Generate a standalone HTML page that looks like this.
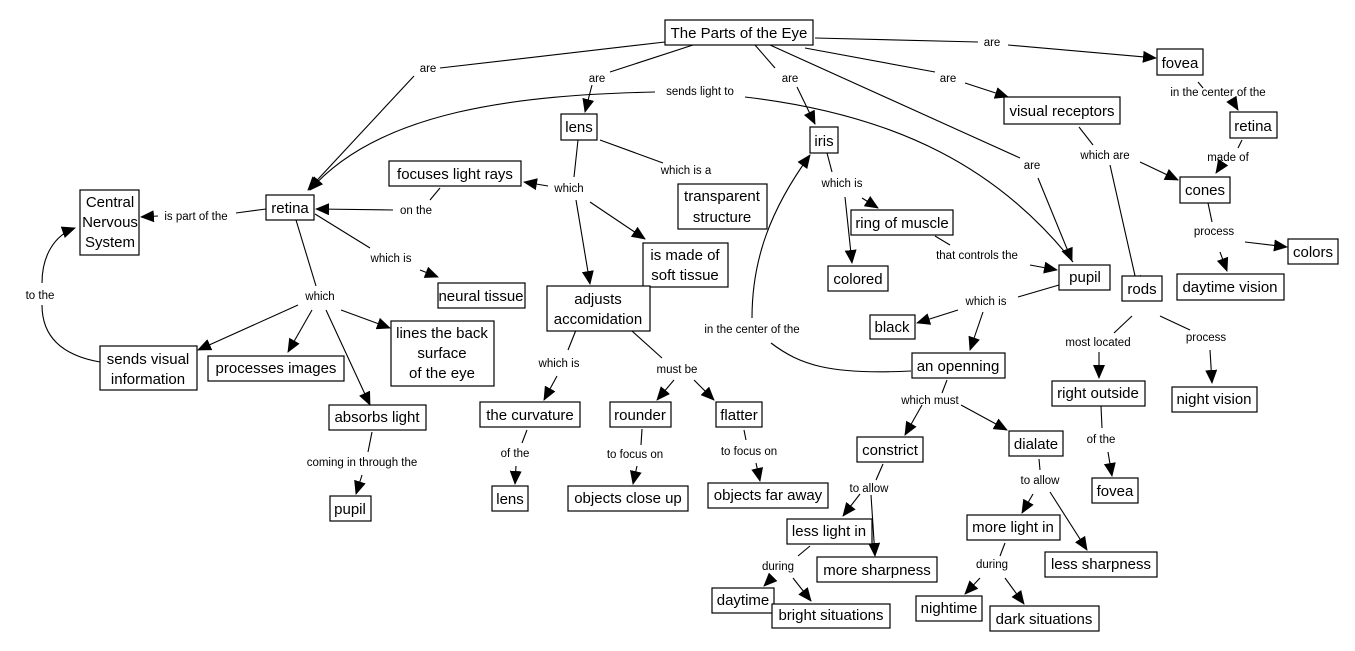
<!DOCTYPE html>
<html><head><meta charset="utf-8"><style>
html,body{margin:0;padding:0;background:#fff;}
svg{display:block;}
.b rect{fill:#fff;stroke:#000;stroke-width:1.2;}
.b text{font-family:"Liberation Sans",Arial,sans-serif;font-size:15px;fill:#000;text-anchor:middle;}
.l{font-family:"Liberation Sans",Arial,sans-serif;font-size:11.5px;fill:#000;text-anchor:middle;}
.c{fill:none;stroke:#000;stroke-width:1.1;}
</style></head><body>
<svg width="1355" height="651" viewBox="0 0 1355 651" xmlns="http://www.w3.org/2000/svg">
<defs><marker id="a" markerUnits="userSpaceOnUse" markerWidth="14" markerHeight="12" refX="13" refY="6" orient="auto"><path d="M0,0 L14,6 L0,12 z" fill="#000"/></marker></defs>
<g class="c">
<path d="M665,42 L440,68"/><path d="M414,76 L308,190" marker-end="url(#a)"/>
<path d="M693,45 L610,72"/><path d="M592,85 L585,112" marker-end="url(#a)"/>
<path d="M655,92 C520,95 380,110 310,190" marker-end="url(#a)"/>
<path d="M1073,262 C1000,170 900,115 745,97"/>
<path d="M755,45 L775,68"/><path d="M797,87 L815,124" marker-end="url(#a)"/>
<path d="M770,45 L1020,158"/><path d="M1038,178 L1072,261" marker-end="url(#a)"/>
<path d="M805,48 L935,72"/><path d="M965,83 L1008,97" marker-end="url(#a)"/>
<path d="M815,38 L978,42"/><path d="M1008,45 L1156,58" marker-end="url(#a)"/>
<path d="M1198,82 L1203,88"/><path d="M1232,100 L1238,110" marker-end="url(#a)"/>
<path d="M1242,140 L1238,148"/><path d="M1222,164 L1216,173" marker-end="url(#a)"/>
<path d="M1079,127 L1093,145"/><path d="M1140,162 L1178,180" marker-end="url(#a)"/><path d="M1110,165 L1138,289" marker-end="url(#a)"/>
<path d="M1208,203 L1212,222"/><path d="M1245,242 L1287,247" marker-end="url(#a)"/><path d="M1220,252 L1227,271" marker-end="url(#a)"/>
<path d="M1132,316 L1114,333"/><path d="M1099,352 L1099,378" marker-end="url(#a)"/>
<path d="M1160,316 L1190,330"/><path d="M1210,350 L1212,383" marker-end="url(#a)"/>
<path d="M1101,406 L1102,428"/><path d="M1108,452 L1112,476" marker-end="url(#a)"/>
<path d="M600,140 L663,163"/>
<path d="M578,140 L574,177"/><path d="M548,186 L524,182" marker-end="url(#a)"/><path d="M576,200 L590,284" marker-end="url(#a)"/><path d="M590,202 L645,239" marker-end="url(#a)"/>
<path d="M440,188 L430,200"/><path d="M393,210 L316,209" marker-end="url(#a)"/>
<path d="M266,209 L236,213"/><path d="M158,216 L141,217" marker-end="url(#a)"/>
<path d="M315,214 L370,248"/><path d="M420,270 L438,277" marker-end="url(#a)"/>
<path d="M296,220 L316,286"/><path d="M298,305 L198,350" marker-end="url(#a)"/><path d="M312,310 L288,352" marker-end="url(#a)"/><path d="M326,310 L370,405" marker-end="url(#a)"/><path d="M341,310 L390,328" marker-end="url(#a)"/>
<path d="M100,362 C60,355 42,335 42,305"/><path d="M42,283 C42,255 55,235 75,228" marker-end="url(#a)"/>
<path d="M372,432 L368,452"/><path d="M362,475 L356,494" marker-end="url(#a)"/>
<path d="M827,153 L832,172"/><path d="M785,346 L785,346"/><path d="M845,197 L852,263" marker-end="url(#a)"/><path d="M862,198 L878,208" marker-end="url(#a)"/>
<path d="M752,318 C752,260 770,210 810,155" marker-end="url(#a)"/>
<path d="M771,343 C800,365 830,375 911,371"/>
<path d="M935,236 L950,245"/><path d="M1030,265 L1057,270" marker-end="url(#a)"/>
<path d="M1059,285 L1018,297"/><path d="M958,310 L917,323" marker-end="url(#a)"/><path d="M983,312 L970,350" marker-end="url(#a)"/>
<path d="M947,380 L942,393"/><path d="M922,405 L905,435" marker-end="url(#a)"/><path d="M961,405 L1007,430" marker-end="url(#a)"/>
<path d="M883,464 L876,480"/><path d="M860,494 L843,516" marker-end="url(#a)"/><path d="M871,495 L875,556" marker-end="url(#a)"/>
<path d="M1039,459 L1040,470"/><path d="M1033,494 L1022,513" marker-end="url(#a)"/><path d="M1050,492 L1087,550" marker-end="url(#a)"/>
<path d="M810,546 L798,556"/><path d="M770,580 L764,586" marker-end="url(#a)"/><path d="M793,578 L811,601" marker-end="url(#a)"/>
<path d="M1005,543 L1000,556"/><path d="M980,578 L965,594" marker-end="url(#a)"/><path d="M1005,578 L1024,604" marker-end="url(#a)"/>
<path d="M576,330 L568,350"/><path d="M557,376 L544,400" marker-end="url(#a)"/>
<path d="M632,331 L662,358"/><path d="M674,380 L657,400" marker-end="url(#a)"/><path d="M694,380 L714,400" marker-end="url(#a)"/>
<path d="M527,430 L522,443"/><path d="M516,466 L515,484" marker-end="url(#a)"/>
<path d="M642,429 L641,445"/><path d="M637,466 L633,484" marker-end="url(#a)"/>
<path d="M744,430 L746,440"/><path d="M756,463 L760,481" marker-end="url(#a)"/>
</g>
<g class="l">
<text x="428" y="72">are</text><text x="597" y="82">are</text><text x="700" y="95">sends light to</text><text x="790" y="82">are</text>
<text x="992" y="46">are</text><text x="948" y="82">are</text><text x="1032" y="169">are</text>
<text x="1218" y="96">in the center of the</text><text x="1228" y="161">made of</text><text x="1105" y="159">which are</text>
<text x="1214" y="235">process</text><text x="1098" y="346">most located</text><text x="1206" y="341">process</text><text x="1101" y="443">of the</text>
<text x="686" y="174">which is a</text><text x="569" y="192">which</text><text x="416" y="214">on the</text><text x="196" y="220">is part of the</text>
<text x="391" y="262">which is</text><text x="320" y="300">which</text><text x="40" y="299">to the</text>
<text x="842" y="187">which is</text><text x="977" y="259">that controls the</text><text x="986" y="305">which is</text>
<text x="752" y="333">in the center of the</text><text x="930" y="404">which must</text>
<text x="559" y="367">which is</text><text x="677" y="373">must be</text><text x="515" y="457">of the</text>
<text x="635" y="458">to focus on</text><text x="749" y="455">to focus on</text><text x="362" y="466">coming in through the</text>
<text x="869" y="492">to allow</text><text x="1040" y="484">to allow</text><text x="778" y="570">during</text><text x="992" y="568">during</text>
</g>
<g class="b">
<rect x="665" y="20" width="148" height="25"/><text x="739" y="38">The Parts of the Eye</text>
<rect x="1157" y="49" width="46" height="26"/><text x="1180" y="68">fovea</text>
<rect x="1004" y="97" width="116" height="27"/><text x="1062" y="116">visual receptors</text>
<rect x="561" y="114" width="36" height="26"/><text x="579" y="132">lens</text>
<rect x="810" y="127" width="28" height="26"/><text x="824" y="146">iris</text>
<rect x="1230" y="112" width="47" height="26"/><text x="1253" y="131">retina</text>
<rect x="1180" y="177" width="50" height="26"/><text x="1205" y="195">cones</text>
<rect x="389" y="161" width="132" height="25"/><text x="455" y="179">focuses light rays</text>
<rect x="678" y="184" width="89" height="45"/><text x="722" y="201">transparent</text><text x="722" y="222">structure</text>
<rect x="80" y="190" width="59" height="65"/><text x="110" y="207">Central</text><text x="110" y="227">Nervous</text><text x="110" y="247">System</text>
<rect x="266" y="195" width="48" height="25"/><text x="290" y="213">retina</text>
<rect x="851" y="210" width="102" height="25"/><text x="902" y="228">ring of muscle</text>
<rect x="643" y="243" width="85" height="44"/><text x="685" y="260">is made of</text><text x="685" y="280">soft tissue</text>
<rect x="1288" y="239" width="50" height="25"/><text x="1313" y="257">colors</text>
<rect x="828" y="266" width="60" height="25"/><text x="858" y="284">colored</text>
<rect x="1059" y="265" width="51" height="25"/><text x="1085" y="282">pupil</text>
<rect x="1177" y="274" width="107" height="26"/><text x="1230" y="292">daytime vision</text>
<rect x="547" y="286" width="103" height="45"/><text x="598" y="304">adjusts</text><text x="598" y="324">accomidation</text>
<rect x="1122" y="276" width="40" height="25"/><text x="1142" y="294">rods</text>
<rect x="438" y="283" width="87" height="25"/><text x="481" y="301">neural tissue</text>
<rect x="870" y="315" width="45" height="24"/><text x="892" y="332">black</text>
<rect x="208" y="356" width="136" height="25"/><text x="276" y="373">processes images</text>
<rect x="391" y="321" width="103" height="65"/><text x="442" y="338">lines the back</text><text x="442" y="358">surface</text><text x="442" y="378">of the eye</text>
<rect x="100" y="346" width="97" height="44"/><text x="148" y="364">sends visual</text><text x="148" y="384">information</text>
<rect x="912" y="353" width="93" height="25"/><text x="958" y="371">an openning</text>
<rect x="1052" y="381" width="93" height="25"/><text x="1098" y="398">right outside</text>
<rect x="1172" y="387" width="85" height="25"/><text x="1214" y="404">night vision</text>
<rect x="329" y="405" width="97" height="25"/><text x="377" y="422">absorbs light</text>
<rect x="480" y="402" width="100" height="25"/><text x="530" y="420">the curvature</text>
<rect x="610" y="402" width="61" height="25"/><text x="640" y="420">rounder</text>
<rect x="716" y="402" width="46" height="25"/><text x="739" y="420">flatter</text>
<rect x="857" y="437" width="66" height="25"/><text x="890" y="455">constrict</text>
<rect x="1009" y="431" width="54" height="25"/><text x="1036" y="449">dialate</text>
<rect x="492" y="486" width="36" height="25"/><text x="510" y="504">lens</text>
<rect x="568" y="486" width="120" height="25"/><text x="628" y="503">objects close up</text>
<rect x="708" y="483" width="120" height="25"/><text x="768" y="500">objects far away</text>
<rect x="1092" y="478" width="46" height="25"/><text x="1115" y="496">fovea</text>
<rect x="330" y="496" width="41" height="25"/><text x="350" y="514">pupil</text>
<rect x="787" y="519" width="85" height="25"/><text x="829" y="536">less light in</text>
<rect x="967" y="515" width="93" height="25"/><text x="1013" y="532">more light in</text>
<rect x="817" y="557" width="120" height="25"/><text x="877" y="575">more sharpness</text>
<rect x="1045" y="552" width="112" height="25"/><text x="1101" y="569">less sharpness</text>
<rect x="712" y="588" width="62" height="25"/><text x="743" y="605">daytime</text>
<rect x="772" y="604" width="118" height="24"/><text x="831" y="620">bright situations</text>
<rect x="916" y="596" width="66" height="25"/><text x="949" y="613">nightime</text>
<rect x="990" y="606" width="109" height="25"/><text x="1044" y="624">dark situations</text>
</g>
</svg>
</body></html>
